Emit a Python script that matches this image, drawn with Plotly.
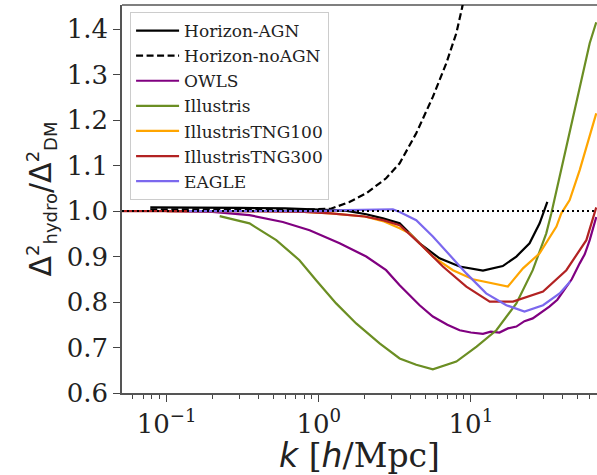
import plotly.graph_objects as go

# ---------------- data ----------------
hagn_k = [0.078, 0.15, 0.3, 0.6, 1.0, 1.5, 2.05, 2.64, 3.4, 4.6, 6.22, 8.43, 12.0, 16.2, 19.9, 24.3, 28.3, 31.8]
hagn_v = [1.008, 1.008, 1.007, 1.006, 1.003, 1.001, 0.993, 0.984, 0.973, 0.929, 0.896, 0.878, 0.869, 0.879, 0.900, 0.929, 0.973, 1.020]

hnoagn_k = [0.078, 0.3, 0.8, 1.2, 1.59, 2.05, 2.77, 3.4, 4.37, 5.62, 6.89, 8.02, 8.78, 9.3]
hnoagn_v = [1.004, 1.004, 1.003, 1.005, 1.020, 1.039, 1.072, 1.105, 1.171, 1.251, 1.325, 1.391, 1.449, 1.5]

owls_k = [0.1, 0.2, 0.35, 0.58, 0.87, 1.37, 2.05, 2.77, 3.4, 4.6, 5.62, 7.0, 8.43, 10.0, 12.0, 13.5, 15.4, 17.5,
          19.9, 22.5, 25.5, 29.0, 32.8, 37.0, 42.4, 46.0, 51.9, 56.0, 60.4, 66.7]
owls_v = [1.0, 0.998, 0.991, 0.976, 0.958, 0.929, 0.900, 0.870, 0.837, 0.793, 0.768, 0.750, 0.738, 0.733, 0.730, 0.735, 0.733, 0.742,
          0.746, 0.758, 0.764, 0.777, 0.790, 0.805, 0.834, 0.850, 0.885, 0.905, 0.936, 0.987]

illustris_k = [0.223, 0.35, 0.525, 0.746, 0.96, 1.30, 1.76, 2.51, 3.40, 4.37, 5.62, 8.02, 10.9, 14.7, 19.9, 25.5, 31.3,
               33.8, 42.4, 51.9, 60.4, 66.7]
illustris_v = [0.989, 0.973, 0.936, 0.892, 0.848, 0.797, 0.753, 0.709, 0.676, 0.662, 0.652, 0.669, 0.702, 0.738, 0.797, 0.870, 0.951,
               0.995, 1.141, 1.272, 1.369, 1.415]

tng100_k = [0.1, 0.3, 0.8, 1.2, 2.0, 2.64, 3.4, 3.95, 5.62, 7.62, 10.3, 17.5, 22.0, 28.3, 36.5, 39.3, 44.6, 51.9, 57.4, 66.7]
tng100_v = [1.0, 1.0, 0.998, 0.995, 0.988, 0.978, 0.962, 0.951, 0.900, 0.870, 0.850, 0.834, 0.874, 0.907, 0.966, 0.995, 1.024, 1.09, 1.14, 1.215]

tng300_k = [0.05, 0.3, 0.8, 1.2, 2.0, 2.64, 3.4, 4.6, 6.54, 9.33, 13.3, 18.9, 29.8, 42.4, 57.4, 66.7]
tng300_v = [1.0, 1.0, 0.998, 0.995, 0.988, 0.980, 0.969, 0.929, 0.878, 0.834, 0.801, 0.801, 0.823, 0.870, 0.936, 1.008]

eagle_k = [0.14, 0.3, 0.6, 1.0, 1.5, 2.39, 3.07, 3.4, 4.37, 5.62, 7.24, 9.33, 12.6, 17.1, 22.5, 29.8, 38.3, 45.0]
eagle_v = [1.0, 1.0, 1.0, 1.0, 1.002, 1.004, 1.004, 0.998, 0.980, 0.944, 0.903, 0.863, 0.819, 0.793, 0.779, 0.793, 0.819, 0.845]

x_tick_vals = [0.1, 1, 10]
x_tick_text = ["10<sup>\u22121</sup>", "10<sup>0</sup>", "10<sup>1</sup>"]
y_tick_vals = [0.6, 0.7, 0.8, 0.9, 1.0, 1.1, 1.2, 1.3, 1.4]
y_tick_text = ["0.6", "0.7", "0.8", "0.9", "1.0", "1.1", "1.2", "1.3", "1.4"]

series = [
    ("Horizon-AGN", hagn_k, hagn_v, "black", "solid"),
    ("Horizon-noAGN", hnoagn_k, hnoagn_v, "black", "dash"),
    ("OWLS", owls_k, owls_v, "#800080", "solid"),
    ("Illustris", illustris_k, illustris_v, "#6b8e23", "solid"),
    ("IllustrisTNG100", tng100_k, tng100_v, "#ffa500", "solid"),
    ("IllustrisTNG300", tng300_k, tng300_v, "#b22222", "solid"),
    ("EAGLE", eagle_k, eagle_v, "#7b68ee", "solid"),
]

fig = go.Figure()
for name, k, v, col, dash in series:
    fig.add_trace(go.Scatter(
        x=k, y=v, mode="lines", name=name, legendgroup=name,
        line=dict(color=col, width=2.2, dash=("7px,3.5px" if dash == "dash" else "solid")),
    ))

serif = "DejaVu Serif"
minor_vals = [m * 10 ** e for e in (-2, -1, 0, 1) for m in range(2, 10)]
small = "<span style='font-size:18px'>{}</span>"

fig.update_layout(
    width=597, height=475,
    margin=dict(l=122, r=0, t=5, b=82),
    plot_bgcolor="white", paper_bgcolor="white",
    showlegend=True,
    legend=dict(
        x=0.017, y=0.982, xanchor="left", yanchor="top",
        font=dict(family=serif, size=17, color="#222"),
        bgcolor="rgba(255,255,255,0.8)", bordercolor="#cccccc", borderwidth=1,
        tracegroupgap=0, itemwidth=43,
    ),
    xaxis=dict(
        type="log", range=[-1.294, 1.829],
        tickvals=x_tick_vals, ticktext=x_tick_text,
        ticks="outside", ticklen=7, tickwidth=1.2, tickcolor="#444",
        showline=True, linecolor="#555", linewidth=1.6,
        showgrid=False, zeroline=False,
        tickfont=dict(family=serif, size=26, color="#222"),
        minor=dict(tickvals=minor_vals, ticks="outside", ticklen=4, tickwidth=1, tickcolor="#444"),
        title=dict(
            text="<span style='font-family:DejaVu Sans'><i>k</i></span> [<span style='font-family:DejaVu Sans'><i>h</i></span>/Mpc]",
            font=dict(family=serif, size=33, color="#222"), standoff=6,
        ),
    ),
    yaxis=dict(
        range=[0.6, 1.453],
        tickvals=y_tick_vals, ticktext=y_tick_text,
        ticks="outside", ticklen=7, tickwidth=1.2, tickcolor="#444",
        showline=True, linecolor="#555", linewidth=1.6,
        showgrid=False, zeroline=False,
        tickfont=dict(family=serif, size=26, color="#222"),
        title=dict(
            text="\u0394<sup>" + small.format("2") + "</sup><sub>" + small.format("hydro") + "</sub>/\u0394<sup>"
                 + small.format("2") + "</sup><sub>" + small.format("DM") + "</sub>",
            font=dict(family="DejaVu Sans", size=30, color="#222"), standoff=6,
        ),
    ),
)

fig.add_hline(y=1.0, line=dict(color="black", width=2, dash="2px,3px"), layer="above")
fig.add_shape(type="line", xref="paper", yref="paper", x0=0, x1=1, y0=1, y1=1,
              line=dict(color="black", width=1.2))

fig.write_html("out.html", post_script="document.body.style.margin='0px';",
               config={"displayModeBar": False})
